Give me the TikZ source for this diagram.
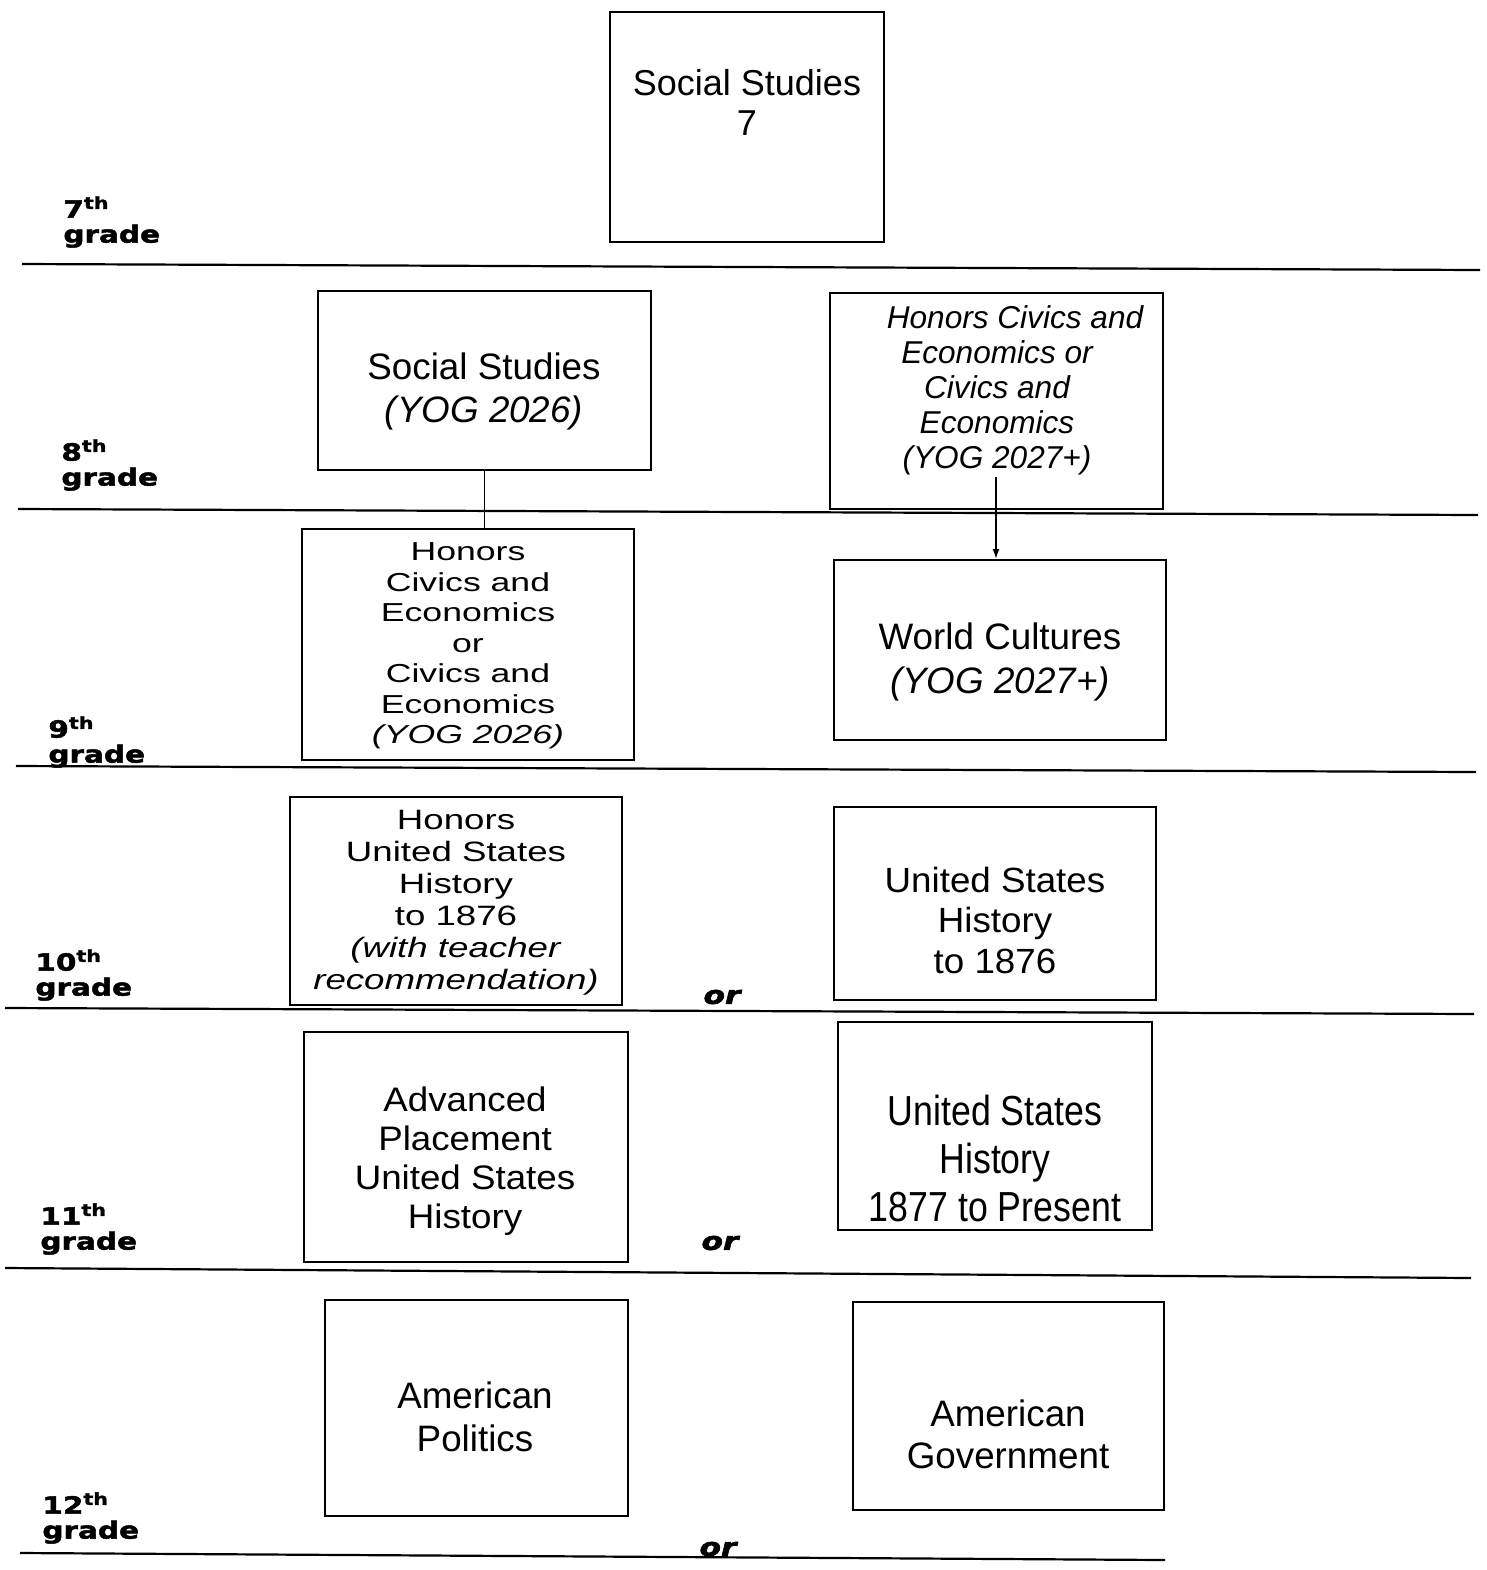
\documentclass[tikz,border=0pt]{standalone}
\usepackage{fontspec}
\setmainfont{Liberation Sans}
\newfontfamily\gradefont[FakeStretch=1.25,
  BoldFeatures={FakeBold=2}, BoldItalicFeatures={FakeBold=2.5}]{DejaVu Sans}
\usetikzlibrary{arrows.meta,fit}

\begin{document}
\begin{tikzpicture}[x=0.5pt,y=-0.5pt,
  course/.style={draw, line width=1pt, inner sep=0pt},
  rule/.style={line width=1.1pt},
  label/.style={align=center, inner sep=0pt},
  grade/.style={anchor=west, align=left, inner sep=0pt,
    font=\gradefont\bfseries\fontsize{11.8}{12.5}\selectfont},
  ortext/.style={inner sep=0pt,
    font=\gradefont\bfseries\itshape\fontsize{12.5}{13}\selectfont},
  link/.style={line width=0.8pt},
]
\useasboundingbox (0,0) rectangle (1487,1570);

% grade separators
\draw[rule] (22,264) -- (1480,270);
\draw[rule] (18,509) -- (1478,515);
\draw[rule] (16,766) -- (1476,772);
\draw[rule] (5,1008) -- (1474,1014);
\draw[rule] (5,1268) -- (1471,1278);
\draw[rule] (20,1553) -- (1165,1560);

% grade labels
\node[grade] (g7)  at (63,222)  {7\textsuperscript{th}\\grade};
\node[grade] (g8)  at (61,465)  {8\textsuperscript{th}\\grade};
\node[grade] (g9)  at (48,742)  {9\textsuperscript{th}\\grade};
\node[grade] (g10) at (35,975)  {10\textsuperscript{th}\\grade};
\node[grade] (g11) at (40,1229) {11\textsuperscript{th}\\grade};
\node[grade] (g12) at (42,1518) {12\textsuperscript{th}\\grade};

% course boxes
\node[course, fit={(610,12) (884,242)}]    (ss7)   {};
\node[course, fit={(318,291) (651,470)}]   (ss8)   {};
\node[course, fit={(830,293) (1163,509)}]  (hce8)  {};
\node[course, fit={(302,529) (634,760)}]   (hce9)  {};
\node[course, fit={(834,560) (1166,740)}]  (wc)    {};
\node[course, fit={(290,797) (622,1005)}]  (hus)   {};
\node[course, fit={(834,807) (1156,1000)}] (us1)   {};
\node[course, fit={(304,1032) (628,1262)}] (apush) {};
\node[course, fit={(838,1022) (1152,1230)}] (us2)  {};
\node[course, fit={(325,1300) (628,1516)}] (ampol) {};
\node[course, fit={(853,1302) (1164,1510)}] (amgov) {};

% course titles
\node[label, font=\fontsize{18}{20}\selectfont] (ss7t) at (747,102)
  {Social Studies\\7};
\node[label, font=\fontsize{18.4}{21.5}\selectfont] (ss8t) at (484,391)
  {Social Studies\\\textit{(YOG 2026)}};
\node[label, font=\itshape\fontsize{15.8}{17.5}\selectfont] (hce8t) at (997,390)
  {\hspace*{18pt}Honors Civics and\\Economics or\\Civics and\\Economics\\(YOG 2027+)};
\node[label, font=\fontsize{13}{15.25}\selectfont\addfontfeature{FakeStretch=1.37}] (hce9t) at (468,646)
  {Honors\\Civics and\\Economics\\or\\Civics and\\Economics\\\textit{(YOG 2026)}};
\node[label, font=\fontsize{18.4}{22}\selectfont] (wct) at (1000,662)
  {World Cultures\\\textit{(YOG 2027+)}};
\node[label, font=\fontsize{14}{16}\selectfont\addfontfeature{FakeStretch=1.31}] (hust) at (456,903)
  {Honors\\United States\\History\\to 1876\\\textit{(with teacher}\\\textit{recommendation)}};
\node[label, font=\fontsize{17.5}{20.25}\selectfont\addfontfeature{FakeStretch=1.05}] (us1t) at (995,920)
  {United States\\History\\to 1876};
\node[label, font=\fontsize{17}{19.5}\selectfont\addfontfeature{FakeStretch=1.08}] (apusht) at (465,1161)
  {Advanced\\Placement\\United States\\History};
\node[label, font=\fontsize{21}{24}\selectfont\addfontfeature{FakeStretch=0.85}] (us2t) at (995,1158)
  {United States\\History\\1877 to Present};
\node[label, font=\fontsize{18.4}{21.5}\selectfont] (ampolt) at (475,1417)
  {American\\Politics};
\node[label, font=\fontsize{18.4}{21}\selectfont] (amgovt) at (1008,1434)
  {American\\Government};

% alternatives
\node[ortext] (or1) at (722,997)  {or};
\node[ortext] (or2) at (720,1243) {or};
\node[ortext] (or3) at (718,1549) {or};

% progressions
\draw[link] (ss8.south) -- (ss8.south |- hce9.north);
\coordinate (civout) at (996,477);
\draw[link, -{Latex[length=5pt,width=3.5pt]}] (civout) -- (civout |- wc.north);
\end{tikzpicture}
\end{document}
